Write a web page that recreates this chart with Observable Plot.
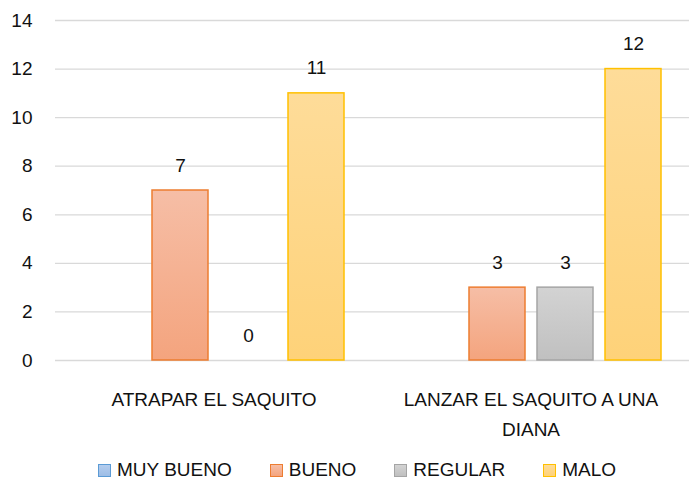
<!DOCTYPE html>
<html>
<head>
<meta charset="utf-8">
<script src="https://cdn.jsdelivr.net/npm/d3@7"></script>
<script src="https://cdn.jsdelivr.net/npm/@observablehq/plot@0.6"></script>
<style>
  html, body { margin: 0; padding: 0; background: #fff; }
  #chart { width: 689px; }
  #legend { display: flex; align-items: center; height: 30px; padding-left: 98px; margin-top: 2px;
    font-family: "Liberation Sans", Arial, sans-serif; font-size: 19px; color: #111; }
  .item { display: flex; align-items: center; margin-right: 38px; }
  .sw { width: 11px; height: 11px; border: 1.5px solid; margin-right: 6px; }
</style>
</head>
<body>
<div id="chart"></div>
<div id="legend"></div>
<script>
const categories = ["ATRAPAR EL SAQUITO", "LANZAR EL SAQUITO A UNA DIANA"];
const categoryLabels = ["ATRAPAR EL SAQUITO", "LANZAR EL SAQUITO A UNA\nDIANA"];
const seriesNames = ["MUY BUENO", "BUENO", "REGULAR", "MALO"];
const muyBueno = [null, null];
const bueno = [7, 3];
const regular = [0, 3];
const malo = [11, 12];
const yTicks = [0, 2, 4, 6, 8, 10, 12, 14];

const seriesValues = [muyBueno, bueno, regular, malo];
const strokes = ["#5b9bd5", "#ed7d31", "#a5a5a5", "#ffc000"];
const gradTop = ["#b4cdee", "#f6bea6", "#d3d3d3", "#fedc99"];
const gradBottom = ["#9dbde6", "#f4a47e", "#c0c0c0", "#fed279"];

const rows = [];
seriesNames.forEach((s, si) => categories.forEach((c, ci) => {
  rows.push({group: c, series: s, value: seriesValues[si][ci]});
}));

const font = "Liberation Sans, Arial, sans-serif";
const marks = [
  Plot.gridY(yTicks, {stroke: "#d9d9d9", strokeOpacity: 1, strokeWidth: 1.3}),
  Plot.axisY(yTicks, {tickSize: 0, tickPadding: 23, fontSize: 19, fill: "#111", label: null})
];
seriesNames.forEach((s, si) => {
  const d = rows.filter(r => r.series === s && r.value != null);
  marks.push(Plot.barY(d, {fx: "group", x: "series", y: "value",
    fill: `url(#grad${si})`, stroke: strokes[si], strokeWidth: 1.5, inset: 0}));
  marks.push(Plot.text(d, {fx: "group", x: "series", y: "value", text: r => String(r.value),
    dy: -25, fontSize: 19, fill: "#111"}));
});
marks.push(Plot.text(categories, {fx: d => d, text: (d, i) => categoryLabels[i],
  frameAnchor: "bottom", lineAnchor: "top", dy: 24, fontSize: 19, fill: "#111", lineHeight: 1.6}));

const svg = Plot.plot({
  width: 689, height: 453,
  marginLeft: 54, marginRight: 0, marginTop: 20, marginBottom: 93,
  style: {fontFamily: font, fontSize: "19px", background: "#fff", color: "#111"},
  fx: {domain: categories, padding: 0, axis: null, label: null},
  x: {domain: seriesNames, paddingInner: 0.18, paddingOuter: 0.41, axis: null},
  y: {domain: [0, 14], axis: null, label: null},
  marks
});

const defs = document.createElementNS("http://www.w3.org/2000/svg", "defs");
seriesNames.forEach((s, si) => {
  const g = document.createElementNS("http://www.w3.org/2000/svg", "linearGradient");
  g.setAttribute("id", "grad" + si);
  g.setAttribute("x1", "0"); g.setAttribute("y1", "0");
  g.setAttribute("x2", "0"); g.setAttribute("y2", "1");
  [[0, gradTop[si]], [1, gradBottom[si]]].forEach(([o, c]) => {
    const st = document.createElementNS("http://www.w3.org/2000/svg", "stop");
    st.setAttribute("offset", o); st.setAttribute("stop-color", c);
    g.appendChild(st);
  });
  defs.appendChild(g);
});
svg.insertBefore(defs, svg.firstChild);
document.getElementById("chart").appendChild(svg);

const legend = document.getElementById("legend");
seriesNames.forEach((s, si) => {
  const it = document.createElement("div"); it.className = "item";
  const sw = document.createElement("div"); sw.className = "sw";
  sw.style.borderColor = strokes[si];
  sw.style.background = `linear-gradient(${gradTop[si]}, ${gradBottom[si]})`;
  const tx = document.createElement("span"); tx.textContent = s;
  it.appendChild(sw); it.appendChild(tx); legend.appendChild(it);
});
</script>
</body>
</html>
